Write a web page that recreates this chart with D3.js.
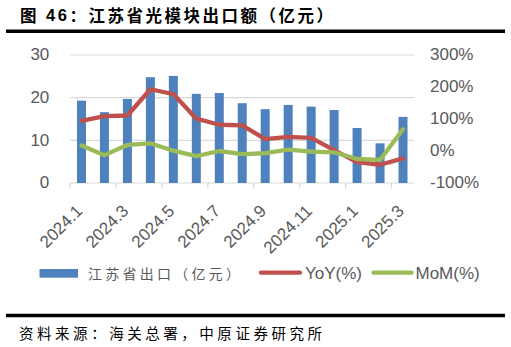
<!DOCTYPE html>
<html><head><meta charset="utf-8">
<script src="https://cdn.jsdelivr.net/npm/d3@7/dist/d3.min.js"></script>
<style>html,body{margin:0;padding:0;background:#fff;}svg{display:block;}</style>
</head><body>
<script>
const categories = ["2024.1","2024.2","2024.3","2024.4","2024.5","2024.6","2024.7","2024.8","2024.9","2024.10","2024.11","2024.12","2025.1","2025.2","2025.3"];
const exportValues = [19.3,16.6,19.7,24.8,25.1,20.9,21.1,18.7,17.3,18.3,17.9,17.1,12.9,9.3,15.5];
const yoyValues = [94,109,111,193,178,101,82,80,37,44,41,3,-35,-43,-23];
const momValues = [17,-13,19,24,1,-16,0,-10,-7,4,-2,-4,-25,-28,68];
const leftTicks = [0,10,20,30];
const rightTicks = [-100,0,100,200,300];
const xLabelCats = ["2024.1","2024.3","2024.5","2024.7","2024.9","2024.11","2025.1","2025.3"];
const titleText = "图 46：江苏省光模块出口额（亿元）";
const sourceText = "资料来源：海关总署，中原证券研究所";
const legendNames = ["江苏省出口（亿元）","YoY(%)","MoM(%)"];

const W = 511, H = 347;
const svg = d3.select("body").append("svg").attr("width", W).attr("height", H);
svg.append("rect").attr("width", W).attr("height", H).attr("fill", "#fff");

const cBlue = "#4f81bd", cRed = "#c0504d", cGreen = "#9bbb59", cGrid = "#d9d9d9", cText = "#595959";
const latin = "'Liberation Sans', Arial, sans-serif";
const cjk = "'Noto Sans CJK SC', sans-serif";

// title
const t = svg.append("text").attr("x", 20).attr("y", 15).attr("dominant-baseline", "central")
  .attr("font-family", cjk).attr("font-weight", "bold").attr("font-size", 16.5).attr("fill", "#000")
  .attr("textLength", 313).attr("lengthAdjust", "spacing");
t.append("tspan").text(titleText.slice(0,1));
t.append("tspan").attr("font-family", latin).text(titleText.slice(1,4));
t.append("tspan").text(titleText.slice(4));
svg.append("line").attr("x1", 6).attr("x2", 505).attr("y1", 31.3).attr("y2", 31.3).attr("stroke", "#000").attr("stroke-width", 3.5);

// scales
const x = d3.scaleBand().domain(categories).range([70, 414.5]).padding(0);
const yL = d3.scaleLinear().domain([0,30]).range([183,55]);
const yR = d3.scaleLinear().domain([-100,300]).range([183,55]);

// grid
svg.append("g").selectAll("line").data(leftTicks).join("line")
  .attr("x1", 70).attr("x2", 414.5).attr("y1", d => yL(d)).attr("y2", d => yL(d))
  .attr("stroke", cGrid).attr("stroke-width", 1.2);
// x tick marks at every second boundary
svg.append("g").selectAll("line").data(categories.filter((d,i) => i % 2 === 0)).join("line")
  .attr("x1", d => x(d)).attr("x2", d => x(d)).attr("y1", 183).attr("y2", 188.5)
  .attr("stroke", cGrid).attr("stroke-width", 1.2);

// axes labels
const axL = svg.append("g").attr("transform", "translate(70,0)")
  .call(d3.axisLeft(yL).tickValues(leftTicks).tickSize(0).tickPadding(20.7));
const axR = svg.append("g").attr("transform", "translate(414.5,0)")
  .call(d3.axisRight(yR).tickValues(rightTicks).tickSize(0).tickPadding(15.5).tickFormat(d => d + "%"));
[axL, axR].forEach(a => {
  a.select(".domain").remove();
  a.selectAll("text").attr("font-family", latin).attr("font-size", 17).attr("fill", cText).attr("dy", "0.28em");
});

// x labels
svg.append("g").selectAll("text").data(xLabelCats).join("text")
  .attr("transform", d => `translate(${x(d) + x.bandwidth()/2 + 2},212) rotate(-45)`)
  .attr("text-anchor", "end").attr("font-family", latin).attr("font-size", 17).attr("fill", cText)
  .text(d => d);

// bars
const bw = 9;
svg.append("g").selectAll("rect").data(exportValues).join("rect")
  .attr("x", (d,i) => x(categories[i]) + x.bandwidth()/2 - bw/2)
  .attr("width", bw)
  .attr("y", d => yL(d)).attr("height", d => yL(0) - yL(d))
  .attr("fill", cBlue);

// lines
const lineGen = d3.line().x((d,i) => x(categories[i]) + x.bandwidth()/2).y(d => yR(d));
svg.append("path").datum(yoyValues).attr("d", lineGen).attr("fill", "none")
  .attr("stroke", cRed).attr("stroke-width", 4.3).attr("stroke-linejoin", "round").attr("stroke-linecap", "round");
svg.append("path").datum(momValues).attr("d", lineGen).attr("fill", "none")
  .attr("stroke", cGreen).attr("stroke-width", 4.3).attr("stroke-linejoin", "round").attr("stroke-linecap", "round");

// legend
const lg = svg.append("g");
lg.append("rect").attr("x", 39.5).attr("y", 269).attr("width", 38.5).attr("height", 8.7).attr("fill", cBlue);
lg.append("text").attr("x", 88).attr("y", 273).attr("dominant-baseline", "central")
  .attr("font-family", cjk).attr("font-size", 14).attr("fill", cText)
  .attr("textLength", 152).attr("lengthAdjust", "spacing").text(legendNames[0]);
lg.append("line").attr("x1", 261).attr("x2", 300).attr("y1", 272.7).attr("y2", 272.7)
  .attr("stroke", cRed).attr("stroke-width", 4.3).attr("stroke-linecap", "round");
lg.append("text").attr("x", 305).attr("y", 279).attr("font-family", latin).attr("font-size", 17).attr("fill", cText).text(legendNames[1]);
lg.append("line").attr("x1", 373.5).attr("x2", 411.5).attr("y1", 272.7).attr("y2", 272.7)
  .attr("stroke", cGreen).attr("stroke-width", 4.3).attr("stroke-linecap", "round");
lg.append("text").attr("x", 415.5).attr("y", 279).attr("font-family", latin).attr("font-size", 17).attr("fill", cText).text(legendNames[2]);

// source
svg.append("line").attr("x1", 6).attr("x2", 505).attr("y1", 315.5).attr("y2", 315.5).attr("stroke", "#000").attr("stroke-width", 3.5);
svg.append("text").attr("x", 19).attr("y", 332).attr("dominant-baseline", "central")
  .attr("font-family", cjk).attr("font-size", 14.5).attr("fill", "#000")
  .attr("textLength", 303).attr("lengthAdjust", "spacing").text(sourceText);
</script>
</body></html>
